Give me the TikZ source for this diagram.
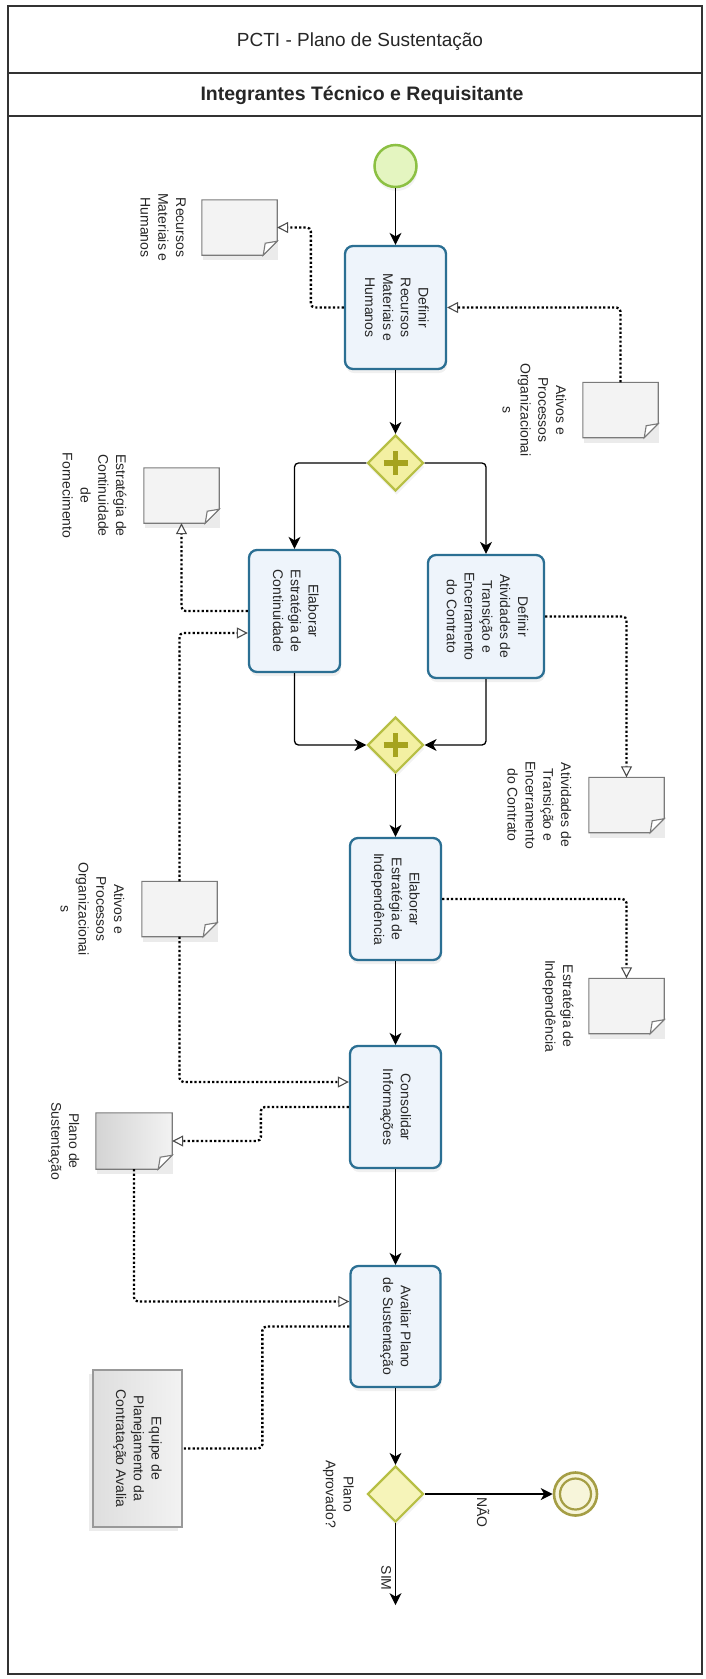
\documentclass[tikz,border=0pt]{standalone}
\usepackage{fontspec}
\setmainfont{Liberation Sans}
\usepackage{graphicx}
\usetikzlibrary{arrows.meta,shapes.geometric,calc,shadows}

\newcommand\rtext[1]{\rotatebox{-90}{\begin{tabular}{@{}c@{}}#1\end{tabular}}}

\definecolor{taskline}{HTML}{2B6F93}
\definecolor{taskfill}{HTML}{EEF4FB}
\definecolor{gateline}{HTML}{B7BF45}
\definecolor{gatefill}{HTML}{F3F0A2}
\definecolor{pluscol}{HTML}{A6A31F}
\definecolor{startline}{HTML}{8CC043}
\definecolor{startfill}{HTML}{E4F5C0}
\definecolor{endline}{HTML}{A59E45}
\definecolor{endfill}{HTML}{F7F5DA}
\definecolor{docdraw}{HTML}{7A7A7A}
\definecolor{docfill}{HTML}{F3F3F3}
\definecolor{framecol}{HTML}{333333}

\newcommand\docfold[2][fill=docfill]{%
  \fill[black,opacity=0.08] ([xshift=1pt,yshift=-5pt]#2.north west) rectangle ([xshift=1pt,yshift=-5pt]#2.south east);
  \draw[docline,#1] (#2.north west) -- (#2.north east) -- ([yshift=14pt]#2.south east) -- ([xshift=-14pt]#2.south east) -- (#2.south west) -- cycle;
  \draw[docline,fill=white] ([yshift=14pt]#2.south east) -- ([xshift=-14pt]#2.south east) -- ([xshift=-12pt,yshift=12pt]#2.south east) -- cycle;
}

\begin{document}
\begin{tikzpicture}[x=1pt,y=-1pt,
  every node/.style={font=\fontsize{14}{17.8}\selectfont, text=black!85},
  task/.style={rectangle, rounded corners=8pt, draw=taskline, line width=2.3pt, fill=taskfill, inner sep=0pt,
    drop shadow={opacity=0.12, shadow xshift=1pt, shadow yshift=-4pt}},
  gate/.style={diamond, aspect=1, minimum size=56pt, inner sep=0pt, draw=gateline, line width=2.2pt, fill=gatefill,
    drop shadow={opacity=0.1, shadow xshift=1pt, shadow yshift=-4pt}},
  docnode/.style={rectangle, minimum width=75pt, minimum height=55pt, inner sep=0pt},
  docline/.style={draw=docdraw, line width=1.1pt, line join=miter},
  doclabel/.style={anchor=east, inner sep=0pt},
  plus/.style={draw=pluscol, line width=5.5pt},
  flow/.style={draw=black, line width=1.3pt, rounded corners=4pt, -{Stealth[length=12pt,width=12pt,inset=3.5pt]}},
  assoc/.style={draw=black, line width=2.3pt, dash pattern=on 2.2pt off 2.2pt, rounded corners=4pt},
  assocarrow/.style={assoc, -{Triangle[length=11pt,width=11pt,line width=1.1pt,color=black!70,fill=white]}},
  eqbox/.style={rectangle, draw=black!40, line width=1.1pt, left color=black!13, right color=black!5, inner sep=0pt,
    drop shadow={opacity=0.15, shadow xshift=-4pt, shadow yshift=-4pt}}
]
\useasboundingbox (0,0) rectangle (705,1679);

% frame and header
\draw[framecol, line width=1.5pt] (8,6) rectangle (702,1674);
\draw[framecol, line width=1.5pt] (8,73) -- (702,73);
\draw[framecol, line width=1.5pt] (8,116) -- (702,116);
\node[font=\fontsize{19}{22}\selectfont] (title) at (360,42) {PCTI - Plano de Sustentação};
\node[font=\fontsize{19.5}{22}\selectfont\bfseries] (lane) at (362,95) {Integrantes Técnico e Requisitante};

% events
\node[circle, minimum size=42pt, inner sep=0pt, draw=startline, line width=2.5pt, fill=startfill,
  drop shadow={opacity=0.1, shadow xshift=1pt, shadow yshift=-4pt}] (start) at (395.5,166) {};
\node[circle, minimum size=43pt, inner sep=0pt, draw=endline, line width=2.6pt, fill=endfill] (end) at (575.5,1494) {};
\draw[endline, line width=2.2pt] (end) circle[radius=15.5];

% tasks
\node[task, minimum width=101pt, minimum height=123pt] (t1) at (395.5,307.5) {\rtext{Definir\\Recursos\\Materiais e\\Humanos}};
\node[task, minimum width=91pt, minimum height=122pt] (t2) at (294.5,611) {\rtext{Elaborar\\Estratégia de\\Continuidade}};
\node[task, minimum width=116pt, minimum height=123pt] (t3) at (486,616.5) {\rtext{Definir\\Atividades de\\Transição e\\Encerramento\\do Contrato}};
\node[task, minimum width=91pt, minimum height=122pt] (t4) at (395.5,899) {\rtext{Elaborar\\Estratégia de\\Independência}};
\node[task, minimum width=91pt, minimum height=122pt] (t5) at (395.5,1107) {\rtext{Consolidar\\Informações}};
\node[task, minimum width=90pt, minimum height=121pt] (t6) at (395.5,1326.5) {\rtext{Avaliar Plano\\de Sustentação}};

% gateways
\node[gate] (g1) at (395.5,463) {};
\node[gate] (g2) at (395.5,745) {};
\node[gate, fill=gatefill!75] (g3) at (395.5,1494) {};
\foreach \g in {g1,g2}{
  \draw[plus] ($(\g)+(-12,0)$) -- ($(\g)+(12,0)$);
  \draw[plus] ($(\g)+(0,-12)$) -- ($(\g)+(0,12)$);
}

% data objects
\node[docnode] (dRMH) at (239.5,227.5) {};
\node[docnode] (dAt1) at (620.5,410) {};
\node[docnode] (dEC) at (181.5,495.5) {};
\node[docnode] (dAtiv) at (626.5,805) {};
\node[docnode] (dAt2) at (179.5,909) {};
\node[docnode] (dEI) at (626.5,1006) {};
\node[docnode, minimum width=76pt, minimum height=56pt] (dPlano) at (134,1141) {};
\docfold{dRMH}
\docfold{dAt1}
\docfold{dEC}
\docfold{dAtiv}
\docfold{dAt2}
\docfold{dEI}
\docfold[left color=black!17, right color=black!5]{dPlano}

% data object labels
\node[doclabel] (lRMH) at ($(dRMH.west)+(-13,0)$) {\rtext{Recursos\\Materiais e\\Humanos}};
\node[doclabel] (lAt1) at ($(dAt1.west)+(-14,0)$) {\rtext{Ativos e\\Processos\\Organizacionai\\s}};
\node[doclabel] (lEC) at ($(dEC.west)+(-15,0)$) {\rtext{Estratégia de\\Continuidade\\de\\Fornecimento}};
\node[doclabel] (lAtiv) at ($(dAtiv.west)+(-15,0)$) {\rtext{Atividades de\\Transição e\\Encerramento\\do Contrato}};
\node[doclabel] (lAt2) at ($(dAt2.west)+(-15,0)$) {\rtext{Ativos e\\Processos\\Organizacionai\\s}};
\node[doclabel] (lEI) at ($(dEI.west)+(-13,0)$) {\rtext{Estratégia de\\Independência}};
\node[doclabel] (lPlano) at ($(dPlano.west)+(-14,0)$) {\rtext{Plano de\\Sustentação}};

% participant box
\node[eqbox, minimum width=89pt, minimum height=157pt] (eq) at (137.5,1448.5) {\rtext{Equipe de\\Planejamento da\\Contratação Avalia}};

% sequence flows
\coordinate (simend) at ($(g3.south)+(0,82)$);
\draw[flow] (start) -- (t1);
\draw[flow] (t1) -- (g1);
\draw[flow] (g1.west) -| (t2.north);
\draw[flow] (g1.east) -| (t3.north);
\draw[flow] (t2.south) |- (g2.west);
\draw[flow] (t3.south) |- (g2.east);
\draw[flow] (g2) -- (t4);
\draw[flow] (t4) -- (t5);
\draw[flow] (t5) -- (t6);
\draw[flow] (t6) -- (g3);
\draw[flow] (g3.east) -- (end.west);
\draw[flow] (g3.south) -- (simend);

\node[inner sep=0pt, anchor=north] (nao) at ($(g3.east)+(56,3)$) {\rtext{NÃO}};
\node[inner sep=0pt, anchor=east] (sim) at ($(g3.south)+(-1.5,55)$) {\rtext{SIM}};
\node[inner sep=0pt, anchor=east] (gq) at ($(g3.west)+(-10,0)$) {\rtext{Plano\\Aprovado?}};

% associations
\draw[assocarrow] (t1.west) -- ++(-33,0) |- (dRMH.east);
\draw[assocarrow] (dAt1.north) |- (t1.east);
\draw[assocarrow] (t2.west) -| (dEC.south);
\draw[assocarrow] (dAt2.north) |- ($(t2.west)+(0,22)$);
\draw[assocarrow] (t3.east) -| (dAtiv.north);
\draw[assocarrow] (t4.east) -| (dEI.north);
\draw[assocarrow] (dAt2.south) |- ($(t5.west)+(0,-25)$);
\draw[assocarrow] (t5.west) -- ++(-88,0) |- (dPlano.east);
\draw[assocarrow] (dPlano.south) |- ($(t6.west)+(0,-25)$);
\draw[assoc] (t6.west) -- ++(-87,0) |- (eq.east);
\end{tikzpicture}
\end{document}
